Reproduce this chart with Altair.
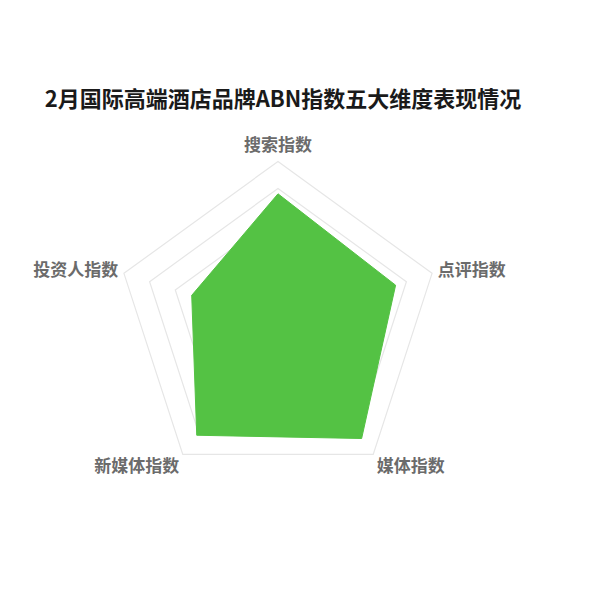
import altair as alt
import pandas as pd

# ---- data ----
categories = ["搜索指数", "点评指数", "媒体指数", "新媒体指数", "投资人指数"]
values = [4.8, 4.58, 5.27, 5.12, 3.36]
ring_levels = [1, 2, 3, 4, 5, 6]
max_value = 6
title_text = "2月国际高端酒店品牌ABN指数五大维度表现情况"

n = len(categories)
series_df = pd.DataFrame({"idx": list(range(n)), "category": categories, "value": values})
ring_df = pd.DataFrame(
    [{"level": lv, "idx": i} for lv in ring_levels for i in range(n)]
)
label_df = pd.DataFrame({"idx": list(range(n)), "category": categories})

# ---- layout ----
PX_PER_UNIT = 27.0
W, H = 540, 380
PLOT_TOP = 124.0
CENTER_Y = 321.4
x_dom = [-(W / 2) / PX_PER_UNIT, (W / 2) / PX_PER_UNIT]
y_dom = [-(PLOT_TOP + H - CENTER_Y) / PX_PER_UNIT, (CENTER_Y - PLOT_TOP) / PX_PER_UNIT]
label_r = max_value * 1.037

xs = alt.Scale(domain=x_dom, nice=False, zero=False)
ys = alt.Scale(domain=y_dom, nice=False, zero=False)

ang = f"2*PI*datum.idx/{n}"

rings = (
    alt.Chart(ring_df)
    .transform_calculate(
        x=f"datum.level*sin({ang})", y=f"datum.level*cos({ang})"
    )
    .mark_line(interpolate="linear-closed", stroke="#e6e6e6", strokeWidth=1.2)
    .encode(
        x=alt.X("x:Q", scale=xs, axis=None),
        y=alt.Y("y:Q", scale=ys, axis=None),
        detail="level:N",
        order="idx:Q",
    )
)

area = (
    alt.Chart(series_df)
    .transform_calculate(
        x=f"datum.value*sin({ang})", y=f"datum.value*cos({ang})"
    )
    .mark_line(interpolate="linear-closed", fill="#54c244", stroke="#54c244",
               strokeWidth=1, fillOpacity=1)
    .encode(
        x=alt.X("x:Q", scale=xs, axis=None),
        y=alt.Y("y:Q", scale=ys, axis=None),
        order="idx:Q",
    )
)

base_lab = alt.Chart(label_df).transform_calculate(
    s=f"sin({ang})", c=f"cos({ang})"
).transform_calculate(
    lx=f"{label_r}*datum.s", ly=f"{label_r}*datum.c"
)

def lab(cond, align, baseline):
    return (
        base_lab.transform_filter(cond)
        .mark_text(align=align, baseline=baseline, font="Noto Sans CJK SC",
                   fontSize=17, fontWeight="bold", color="#6b6b6b")
        .encode(
            x=alt.X("lx:Q", scale=xs, axis=None),
            y=alt.Y("ly:Q", scale=ys, axis=None),
            text="category:N",
        )
    )

labels = [
    lab("abs(datum.s) < 0.1 && datum.c > 0", "center", "bottom"),
    lab("datum.s >= 0.1 && datum.c >= 0", "left", "middle"),
    lab("datum.s >= 0.1 && datum.c < 0", "left", "top"),
    lab("datum.s <= -0.1 && datum.c < 0", "right", "top"),
    lab("datum.s <= -0.1 && datum.c >= 0", "right", "middle"),
]

chart = (
    alt.layer(rings, area, *labels)
    .properties(
        width=W,
        height=H,
        padding={"left": 0, "top": 81, "right": 0, "bottom": 0},
        title=alt.TitleParams(
            title_text, fontSize=22, fontWeight="bold", font="Noto Sans CJK SC",
            color="#1a1a1a", anchor="middle", offset=14, dx=5,
        ),
    )
    .configure_view(strokeWidth=0)
)

chart.save("out.html", embed_options={"renderer": "svg", "actions": False})
